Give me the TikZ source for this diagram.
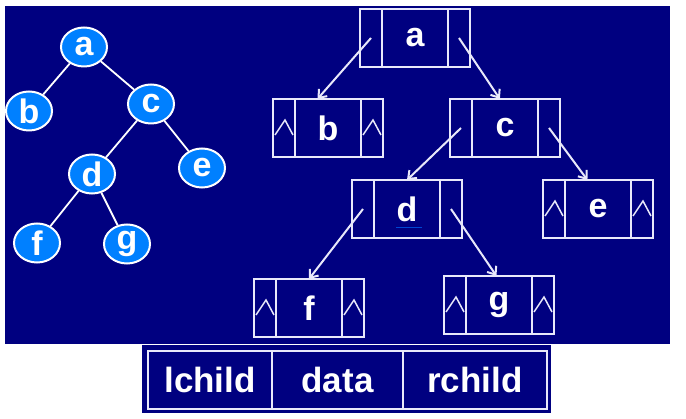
\documentclass[tikz,border=0pt]{standalone}
\usepackage{fontspec}
\setmainfont{Liberation Sans}
\usetikzlibrary{arrows.meta, positioning, shapes.geometric}

\definecolor{bgnavy}{RGB}{0,0,128}
\definecolor{nodeblue}{RGB}{0,128,255}
\definecolor{boxline}{RGB}{232,232,250}
\definecolor{linkblue}{RGB}{0,70,210}

% empty pointer mark inside a cell
\newcommand{\nullmark}[1]{%
    \draw[nullline] ([shift={(-9pt,-7pt)}]#1.center) -- ([shift={(1pt,8pt)}]#1.center) -- ([shift={(9pt,-7pt)}]#1.center);}

\begin{document}
\begin{tikzpicture}[
            x = 1pt, y = -1pt, % pixel coordinates, y downwards
            > = {Straight Barb[length=7pt, width=11pt]}, % arrow head style
            on grid, % node distances between centres
            line width = 2pt % line style
        ]

        \tikzstyle{tnode}=[
            ellipse,
            draw = white,
            fill = nodeblue,
            text = white,
            minimum width = 46pt,
            minimum height = 39pt,
            inner sep = 0pt,
            font = \fontsize{34}{40}\selectfont\bfseries
        ]
        \tikzstyle{cell}=[
            rectangle,
            draw = boxline,
            text = white,
            minimum height = 58pt,
            inner sep = 0pt,
            outer sep = 0pt,
            font = \fontsize{34}{40}\selectfont\bfseries
        ]
        \tikzstyle{datacell}=[cell, minimum width = 66pt]
        \tikzstyle{ptrcell}=[cell, minimum width = 22pt]
        \tikzstyle{tedge}=[draw = white, line width = 1.8pt]
        \tikzstyle{ptr}=[->, draw = boxline]
        \tikzstyle{nullline}=[draw = boxline, line width = 1.5pt]

        \useasboundingbox (0,0) rectangle (686,419);
        \fill[bgnavy] (5,6) rectangle (670,344);
        \fill[bgnavy] (142,345) rectangle (551,413);

        % the binary tree
        \node[tnode] (ta) at (84,47) {a};
        \node[tnode] (tb) [below left=64pt and 55pt of ta] {b};
        \node[tnode] (tc) [below right=57pt and 67pt of ta] {c};
        \node[tnode] (td) [below left=70pt and 59pt of tc] {d};
        \node[tnode] (te) [below right=64pt and 51pt of tc] {e};
        \node[tnode] (tf) [below left=69pt and 55pt of td] {f};
        \node[tnode] (tg) [below right=70pt and 35pt of td] {g};

        \path[tedge] (ta) edge (tb) (ta) edge (tc);
        \path[tedge] (tc) edge (td) (tc) edge (te);
        \path[tedge] (td) edge (tf) (td) edge (tg);

        % the linked nodes
        \node[datacell] (da) at (415,38) {a};
        \node[datacell] (db) [below left=90pt and 87pt of da] {b};
        \node[datacell] (dc) [below right=90pt and 90pt of da] {c};
        \node[datacell] (dd) [below left=81pt and 98pt of dc] {d};
        \node[datacell] (de) [below right=81pt and 93pt of dc] {e};
        \node[datacell] (df) [below left=99pt and 98pt of dd] {f};
        \node[datacell] (dg) [below right=96pt and 92pt of dd] {g};

        \foreach \n in {a,b,c,d,e,f,g} {
            \node[ptrcell, anchor=east] (l\n) at (d\n.west) {};
            \node[ptrcell, anchor=west] (r\n) at (d\n.east) {};
        }

        \draw[ptr] (la.center) -- (db.110);
        \draw[ptr] (ra.center) -- (dc.100);
        \draw[ptr] (lc.center) -- (dd.north);
        \draw[ptr] (rc.center) -- (de.110);
        \draw[ptr] (ld.center) -- (df.north);
        \draw[ptr] (rd.center) -- (dg.95);

        \foreach \n in {b,e,f,g} {
            \nullmark{l\n}
            \nullmark{r\n}
        }

        % added
        \draw[linkblue, line width = 1.2pt] ([shift={(-11pt,-18.5pt)}]dd.center) -- ++(26pt,0pt);

        % the node layout
        \node[cell, minimum width = 124pt, font = \fontsize{35}{40}\selectfont\bfseries] (lchild) at (210,380) {lchild};
        \node[cell, minimum width = 131pt, font = \fontsize{35}{40}\selectfont\bfseries, anchor=west] (data) at (lchild.east) {data};
        \node[cell, minimum width = 144pt, font = \fontsize{35}{40}\selectfont\bfseries, anchor=west] (rchild) at (data.east) {rchild};

    \end{tikzpicture}
\end{document}
